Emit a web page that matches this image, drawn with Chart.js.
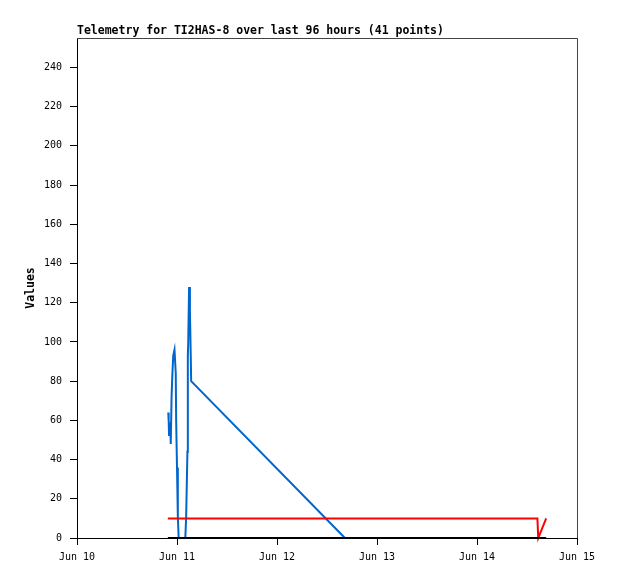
<!DOCTYPE html>
<html>
<head>
<meta charset="utf-8">
<script src="https://cdn.jsdelivr.net/npm/chart.js@4/dist/chart.umd.min.js"></script>
<style>
  html, body { margin: 0; padding: 0; background: #fff; }
  #wrap { width: 618px; height: 579px; }
</style>
</head>
<body>
<div id="wrap"><canvas id="chart"></canvas></div>
<script>
// x values are hours since Jun 10 00:00
var blueHours = [21.9, 22.0, 22.1, 22.4, 22.5, 22.7, 22.9, 23.1, 23.4, 23.7, 23.8, 24.0,
                 24.2, 24.4, 26.0, 26.2, 26.5, 26.6, 26.7, 26.9, 27.1, 27.3, 27.4, 64.3];
var blueValues = [64, 60, 52, 59, 48, 72, 84, 93, 96, 84, 60, 36,
                  11, 0, 0, 11, 44, 93, 100, 128, 116, 93, 80, 0];

var redHours = [21.8, 110.5, 110.7, 112.6];
var redValues = [10, 10, 0, 10];

var blackHours = [21.8, 112.6];
var blackValues = [0, 0];

var xTickLabels = ['Jun 10', 'Jun 11', 'Jun 12', 'Jun 13', 'Jun 14', 'Jun 15'];
var yTickValues = [0, 20, 40, 60, 80, 100, 120, 140, 160, 180, 200, 220, 240];

function points(xs, ys) {
    return xs.map(function(x, i) { return {x: x, y: ys[i]}; });
}

var mono = 'DejaVu Sans Mono';

var frame = {
    id: 'frame',
    afterDatasetsDraw: function(chart) {
        var a = chart.chartArea, c = chart.ctx;
        c.save();
        c.strokeStyle = '#444';
        c.lineWidth = 1;
        c.beginPath();
        c.moveTo(a.left, a.top + 0.5);
        c.lineTo(a.right + 0.5, a.top + 0.5);
        c.lineTo(a.right + 0.5, a.bottom);
        c.stroke();
        c.restore();
    }
};

new Chart(document.getElementById('chart'), {
    type: 'line',
    data: {
        datasets: [{
            data: points(blackHours, blackValues),
            borderColor: '#000',
            borderWidth: 2,
            clip: false
        }, {
            data: points(redHours, redValues),
            borderColor: '#ff0000',
            borderWidth: 2,
            clip: false
        }, {
            data: points(blueHours, blueValues),
            borderColor: '#0066cc',
            borderWidth: 2,
            clip: false
        }]
    },
    options: {
        responsive: true,
        maintainAspectRatio: false,
        animation: false,
        elements: { point: { radius: 0 }, line: { tension: 0 } },
        layout: { padding: { top: 10, right: 41, left: 0, bottom: 0 } },
        plugins: {
            legend: { display: false },
            tooltip: { enabled: false },
            title: {
                display: true,
                text: 'Telemetry for TI2HAS-8 over last 96 hours (41 points)',
                align: 'start',
                fullSize: false,
                color: '#000',
                font: { family: mono, size: 11.5, weight: 'bold', lineHeight: '14px' },
                padding: { top: 14, bottom: 0 }
            }
        },
        scales: {
            x: {
                type: 'linear',
                min: 0,
                max: 120,
                grid: { drawOnChartArea: false, tickLength: 7, color: '#000' },
                border: { color: '#000' },
                afterBuildTicks: function(scale) {
                    scale.ticks = xTickLabels.map(function(l, i) { return {value: i * 24}; });
                },
                afterFit: function(scale) { scale.height = 41; },
                ticks: {
                    color: '#000',
                    padding: 6,
                    maxRotation: 0,
                    font: { family: mono, size: 10 },
                    callback: function(v) { return xTickLabels[v / 24]; }
                }
            },
            y: {
                min: 0,
                max: 255,
                grid: { drawOnChartArea: false, tickLength: 7, color: '#000' },
                border: { color: '#000' },
                afterBuildTicks: function(scale) {
                    scale.ticks = yTickValues.map(function(v) { return {value: v}; });
                },
                afterFit: function(scale) { scale.width = 77; },
                ticks: {
                    color: '#000',
                    padding: 8,
                    font: { family: mono, size: 10 }
                },
                title: {
                    display: true,
                    text: 'Values',
                    color: '#000',
                    font: { family: mono, size: 11.5, weight: 'bold' },
                    padding: { top: 24, bottom: 0 }
                }
            }
        }
    },
    plugins: [frame]
});
</script>
</body>
</html>
